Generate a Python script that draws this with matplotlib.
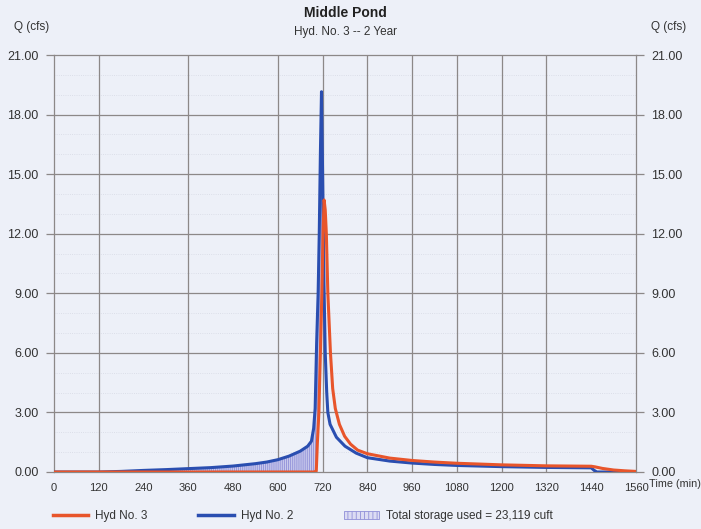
import numpy as np
import matplotlib.pyplot as plt
from matplotlib.patches import Patch
from matplotlib.lines import Line2D

plt.rcParams['font.family'] = ['Liberation Sans', 'DejaVu Sans']

# Hyd No. 2 (inflow)
t_in = [0, 120, 180, 240, 300, 360, 420, 480, 540, 570, 600, 630, 660, 680,
        690, 696, 700, 704, 708, 711, 714, 717, 720, 723.6, 727, 731, 734,
        740, 757, 780, 810, 840, 900, 960, 1020, 1080, 1200, 1320, 1440,
        1448, 1455, 1560]
q_in = [0, 0.0, 0.03, 0.08, 0.12, 0.17, 0.22, 0.3, 0.42, 0.5, 0.62, 0.8, 1.05,
        1.3, 1.55, 2.2, 3.2, 6.5, 9.0, 12.0, 16.0, 19.15, 15.0, 9.5, 6.0, 4.0,
        3.0, 2.4, 1.75, 1.3, 0.95, 0.72, 0.55, 0.45, 0.38, 0.33, 0.27, 0.23,
        0.21, 0.08, 0.0, 0.0]

# Hyd No. 3 (outflow)
t_out = [0, 700, 703, 706, 710, 714, 718, 721, 724, 727, 730, 734, 741, 747,
         754, 765, 779, 795, 814, 840, 900, 960, 1020, 1080, 1200, 1320, 1440,
         1450, 1470, 1500, 1530, 1560]
q_out = [0, 0.0, 0.05, 1.5, 3.0, 6.0, 9.0, 12.0, 13.7, 13.2, 12.0, 9.0, 6.0,
         4.2, 3.2, 2.4, 1.8, 1.4, 1.1, 0.92, 0.7, 0.58, 0.5, 0.44, 0.36, 0.31,
         0.29, 0.26, 0.18, 0.1, 0.06, 0.03]

x_ticks = list(range(0, 1561, 120))
y_ticks = [0, 3, 6, 9, 12, 15, 18, 21]
grid_x = [120, 360, 600, 720, 840, 960, 1080, 1200, 1320]

bg = '#edf0f8'
c_out = '#e8552b'
c_in = '#2a4eb0'
hatch_c = '#8f8fd8'

plt.rcParams['hatch.color'] = hatch_c
plt.rcParams['hatch.linewidth'] = 0.6

fig = plt.figure(figsize=(7.01, 5.29), dpi=100, facecolor=bg)
ax = fig.add_axes([54/701, 1-472/529, 582/701, 417/529])
ax.set_facecolor(bg)

# storage area between inflow and outflow
tt = np.linspace(0, 724, 800)
qi = np.interp(tt, t_in, q_in)
qo = np.interp(tt, t_out, q_out)
ax.fill_between(tt, qo, qi, where=qi > qo, facecolor='#c8c9ec',
                hatch='||||||||', edgecolor=hatch_c, linewidth=0, zorder=2)

ax.plot(t_in, q_in, color=c_in, lw=2.2, zorder=4)
ax.plot(t_out, q_out, color=c_out, lw=2.2, zorder=5)

for gx in grid_x:
    ax.axvline(gx, color='#8c8888', lw=0.9, zorder=1)
for gy in y_ticks[1:-1]:
    ax.axhline(gy, color='#8c8888', lw=0.9, zorder=1)
for gy in range(1, 21):
    if gy % 3:
        ax.axhline(gy, color='#d6d9e4', lw=0.6, ls=':', zorder=0.5)

ax.set_xlim(0, 1560)
ax.set_ylim(0, 21)
ax.set_xticks(x_ticks)
ax.set_yticks(y_ticks)
ax.set_yticklabels(['%.2f' % v for v in y_ticks])
ax.tick_params(axis='x', length=0, pad=8, labelsize=8, colors='#333333')
ax.tick_params(axis='y', length=6, width=0.9, color='#8c8888', pad=5,
               labelsize=9, labelcolor='#333333', right=True, labelright=True)
for s in ax.spines.values():
    s.set_color('#8c8888')
    s.set_linewidth(0.9)

fig.text(345/701, 1-13/529, 'Middle Pond', ha='center', va='center',
         fontsize=10, fontweight='bold', color='#222222')
fig.text(345/701, 1-32/529, 'Hyd. No. 3 -- 2 Year', ha='center', va='center',
         fontsize=8.5, color='#333333')
fig.text(14/701, 1-27/529, 'Q (cfs)', ha='left', va='center', fontsize=8.5,
         color='#333333')
fig.text(651/701, 1-27/529, 'Q (cfs)', ha='left', va='center', fontsize=8.5,
         color='#333333')
fig.text(701/701, 1-484/529, 'Time (min)', ha='right', va='center',
         fontsize=7.8, color='#333333')

handles = [Line2D([], [], color=c_out, lw=2.5),
           Line2D([], [], color=c_in, lw=2.5),
           Patch(facecolor='#dcdcf3', edgecolor=hatch_c, hatch='||||', lw=0.6)]
labels = ['Hyd No. 3', 'Hyd No. 2', 'Total storage used = 23,119 cuft']
fig.legend(handles, labels, loc='center left', ncol=3, frameon=False,
           bbox_to_anchor=(42/701, 1-516/529), fontsize=8.5,
           handlelength=3.0, handletextpad=0.6, columnspacing=4.3,
           labelcolor='#333333')

fig.savefig('out.png', dpi=100, facecolor=bg)
